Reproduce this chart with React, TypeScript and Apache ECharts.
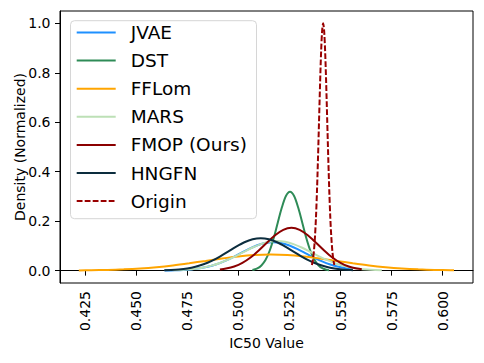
import React, { useEffect, useRef } from "react";
import * as echarts from "echarts";

const xTicks = [0.425, 0.45, 0.475, 0.5, 0.525, 0.55, 0.575, 0.6];
const yTicks = [0, 0.2, 0.4, 0.6, 0.8, 1.0];

const seriesNames = ["JVAE", "DST", "FFLom", "MARS", "FMOP (Ours)", "HNGFN", "Origin"];
const seriesColors = ["#1e90ff", "#2e8b57", "#ffa500", "#bde0b6", "#8b0000", "#0c2d3e", "#990000"];

const jvae = [
  [0.464, 0.0005], [0.465, 0.0006], [0.469, 0.0013], [0.473, 0.0026], [0.477, 0.005], [0.481, 0.0092],
  [0.485, 0.0156], [0.489, 0.0249], [0.493, 0.0373], [0.497, 0.0526], [0.501, 0.0698], [0.505, 0.0868],
  [0.509, 0.1015], [0.513, 0.1115], [0.517, 0.115], [0.521, 0.1115], [0.525, 0.1015], [0.529, 0.0868],
  [0.533, 0.0698], [0.537, 0.0526], [0.541, 0.0373], [0.545, 0.0249], [0.549, 0.0156], [0.553, 0.0092],
  [0.556, 0.0059],
];

const dst = [
  [0.5069, 0.0029], [0.5073, 0.0035], [0.5093, 0.0091], [0.5113, 0.021], [0.5133, 0.0431], [0.5153, 0.0794],
  [0.5173, 0.131], [0.5193, 0.194], [0.5213, 0.255], [0.5233, 0.302], [0.5253, 0.319], [0.5273, 0.302],
  [0.5293, 0.255], [0.5313, 0.194], [0.5333, 0.131], [0.5353, 0.0794], [0.5373, 0.0431], [0.5393, 0.021],
  [0.5413, 0.0091], [0.5433, 0.0035], [0.5444, 0.002],
];

const fflom = [
  [0.422, 0.0009], [0.428, 0.0015], [0.436, 0.0029], [0.444, 0.0052], [0.452, 0.0088], [0.46, 0.0141],
  [0.468, 0.0211], [0.476, 0.0298], [0.484, 0.0394], [0.492, 0.0491], [0.5, 0.0574], [0.508, 0.063],
  [0.516, 0.065], [0.524, 0.063], [0.532, 0.0574], [0.54, 0.0491], [0.548, 0.0394], [0.556, 0.0298],
  [0.564, 0.0211], [0.572, 0.0141], [0.58, 0.0088], [0.588, 0.0052], [0.596, 0.0029], [0.604, 0.0015],
  [0.6055, 0.0013],
];

const mars = [
  [0.468, 0.0013], [0.471, 0.0022], [0.475, 0.0042], [0.479, 0.0075], [0.483, 0.0127], [0.487, 0.0204],
  [0.491, 0.0309], [0.495, 0.0443], [0.499, 0.0601], [0.503, 0.0771], [0.507, 0.0935], [0.511, 0.1074],
  [0.515, 0.1167], [0.519, 0.12], [0.523, 0.1167], [0.527, 0.1074], [0.531, 0.0935], [0.535, 0.0771],
  [0.539, 0.0601], [0.543, 0.0443], [0.547, 0.0309], [0.551, 0.0204], [0.555, 0.0127], [0.559, 0.0075],
  [0.563, 0.0042], [0.567, 0.0022], [0.5702, 0.0013],
];

const fmop = [
  [0.491, 0.0046], [0.494, 0.0084], [0.498, 0.017], [0.502, 0.0315], [0.506, 0.053], [0.51, 0.0812],
  [0.514, 0.113], [0.518, 0.1432], [0.522, 0.165], [0.526, 0.173], [0.53, 0.165], [0.534, 0.1432],
  [0.538, 0.113], [0.542, 0.0812], [0.546, 0.053], [0.55, 0.0315], [0.554, 0.017], [0.558, 0.0084],
  [0.5604, 0.0052],
];

const hngfn = [
  [0.4638, 0.0013], [0.467, 0.0023], [0.471, 0.0047], [0.475, 0.0088], [0.479, 0.0156], [0.483, 0.0256],
  [0.487, 0.0395], [0.491, 0.057], [0.495, 0.0769], [0.499, 0.0971], [0.503, 0.1147], [0.507, 0.1267],
  [0.511, 0.131], [0.515, 0.1267], [0.519, 0.1147], [0.523, 0.0971], [0.527, 0.0769], [0.531, 0.057],
  [0.535, 0.0395], [0.539, 0.0256], [0.543, 0.0156], [0.547, 0.0088], [0.551, 0.0047], [0.555, 0.0023],
  [0.5561, 0.0019],
];

const origin = [
  [0.536, 0.0228], [0.5365, 0.0439], [0.537, 0.0796], [0.5375, 0.1353], [0.538, 0.216], [0.5385, 0.3247],
  [0.539, 0.458], [0.5395, 0.6065], [0.54, 0.755], [0.5405, 0.8825], [0.541, 0.969], [0.5415, 1.0],
  [0.542, 0.969], [0.5425, 0.8825], [0.543, 0.755], [0.5435, 0.6065], [0.544, 0.458], [0.5445, 0.3247],
  [0.545, 0.216], [0.5455, 0.1353], [0.546, 0.0796], [0.5465, 0.0439], [0.547, 0.0228],
];

const seriesData = [jvae, dst, fflom, mars, fmop, hngfn, origin];

const FONT = "DejaVu Sans";
const SOLID_ICON = "path://M0,0h39v2h-39z";
const DASH_ICON = "path://M0,0h5.8v2h-5.8z M8,0h5.8v2h-5.8z M16,0h5.8v2h-5.8z M24,0h5.8v2h-5.8z M32,0h5.8v2h-5.8z M39,0h0v2h0z";

export default function App() {
  const ref = useRef<HTMLDivElement>(null);
  useEffect(() => {
    if (!ref.current) return;
    const chart = echarts.init(ref.current, undefined, { renderer: "svg" });
    chart.setOption({
      animation: false,
      backgroundColor: "#ffffff",
      textStyle: { fontFamily: FONT },
      grid: {
        left: 60,
        right: 11,
        top: 11,
        bottom: 80,
        show: true,
        borderColor: "#000",
        borderWidth: 1,
        backgroundColor: "transparent",
      },
      graphic: [
        {
          type: "rect",
          z: 9,
          shape: { x: 70.5, y: 20.7, width: 186, height: 198, r: 4 },
          style: { fill: "rgba(255,255,255,0.8)", stroke: "#d6d6d6", lineWidth: 1 },
        },
      ],
      legend: {
        z: 10,
        orient: "vertical",
        left: 76.7,
        top: 23,
        padding: 0,
        itemGap: 9.1,
        itemWidth: 39,
        itemHeight: 14,
        symbolKeepAspect: true,
        textStyle: { fontFamily: FONT, fontSize: 18.5, color: "#000", lineHeight: 19, padding: [0, 0, 0, 10] },
        data: seriesNames.map((n) => ({ name: n, icon: n === "Origin" ? DASH_ICON : SOLID_ICON })),
      },
      xAxis: {
        type: "value",
        min: 0.4128,
        max: 0.6148,
        name: "IC50 Value",
        nameLocation: "middle",
        nameGap: 53,
        nameMoveOverlap: false,
        nameTextStyle: { fontFamily: FONT, fontSize: 14, color: "#000" },
        axisLine: { show: true, lineStyle: { color: "#000", width: 1 } },
        axisTick: { show: true, length: 5, lineStyle: { color: "#000" }, customValues: xTicks },
        axisLabel: {
          show: true,
          rotate: 90,
          margin: 8,
          fontFamily: FONT,
          fontSize: 14,
          color: "#000",
          customValues: xTicks,
          formatter: (v: number) => v.toFixed(3),
        },
        splitLine: { show: false },
      },
      yAxis: {
        type: "value",
        min: -0.05,
        max: 1.05,
        name: "Density (Normalized)",
        nameLocation: "middle",
        nameRotate: 90,
        nameGap: 33,
        nameMoveOverlap: false,
        nameTextStyle: { fontFamily: FONT, fontSize: 14, color: "#000" },
        axisLine: { show: true, lineStyle: { color: "#000", width: 1 } },
        axisTick: { show: true, length: 5, lineStyle: { color: "#000" }, customValues: yTicks },
        axisLabel: {
          show: true,
          margin: 9.5,
          fontFamily: FONT,
          fontSize: 14,
          color: "#000",
          customValues: yTicks,
          formatter: (v: number) => v.toFixed(1),
        },
        splitLine: { show: false },
      },
      series: seriesNames.map((name, i) => ({
        name,
        type: "line",
        data: seriesData[i],
        symbol: "none",
        showSymbol: false,
        smooth: 0.3,
        color: seriesColors[i],
        lineStyle: {
          color: seriesColors[i],
          width: 2,
          type: name === "Origin" ? [5.8, 2.2] : "solid",
        },
      })),
    });
    return () => chart.dispose();
  }, []);
  return <div ref={ref} style={{ position: "fixed", left: 0, top: 0, width: 484, height: 363 }} />;
}
